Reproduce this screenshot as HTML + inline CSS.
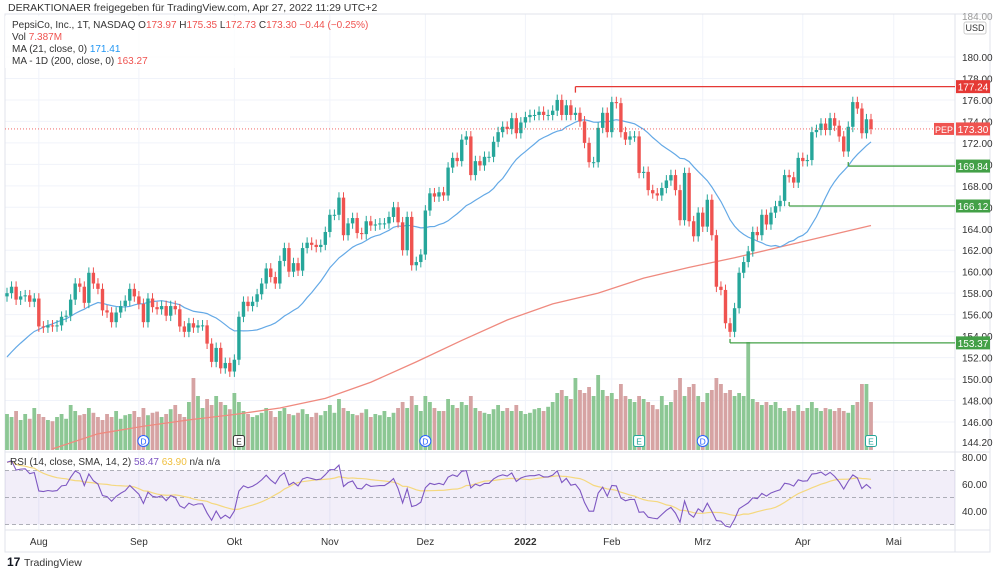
<!DOCTYPE html>
<html><head><meta charset="utf-8">
<style>
body{margin:0;background:#fff;width:1000px;height:575px;overflow:hidden;font-family:"Liberation Sans",sans-serif}
svg{position:absolute;left:0;top:0}
text{font-family:"Liberation Sans",sans-serif}
</style></head>
<body>
<svg id="c" width="1000" height="575" viewBox="0 0 1000 575"></svg>
<script>
const closes=[158.0,158.6,157.4,157.7,157.8,157.2,157.5,154.9,154.8,155.0,
154.9,155.0,155.8,155.9,157.4,158.9,158.6,157.1,159.9,158.9,
158.4,156.4,156.2,155.3,156.2,156.8,157.3,158.4,157.7,157.0,
155.3,157.5,156.7,156.5,156.8,155.9,156.8,156.5,154.9,154.4,
155.2,154.8,155.0,155.0,153.3,151.6,152.9,151.0,151.5,150.7,
151.8,155.8,157.2,156.8,157.2,157.9,158.9,160.3,159.5,158.9,
161.0,162.2,160.0,160.8,160.1,162.2,162.7,162.5,162.3,162.5,
163.7,165.3,165.3,166.9,163.4,164.5,165.0,163.6,163.5,164.7,
164.3,164.4,164.5,164.5,165.1,166.0,164.6,162.0,165.1,160.6,
160.9,161.6,165.7,167.3,167.0,167.4,167.1,169.7,170.6,170.3,
172.3,172.6,169.0,170.3,169.9,170.7,170.7,172.1,173.0,173.5,
173.3,174.3,172.9,173.9,174.4,174.6,174.6,174.9,174.6,174.6,
175.0,176.0,174.6,175.5,174.6,174.8,174.0,172.0,170.2,170.2,
173.4,174.8,173.0,175.8,175.7,173.0,172.3,
172.6,172.6,169.2,169.3,167.6,167.3,167.1,167.8,168.5,169.0,
167.6,164.8,169.2,164.7,163.3,165.5,164.2,166.7,163.4,158.6,
158.3,155.2,154.4,156.6,159.9,160.9,161.9,163.7,163.4,165.3,
164.4,165.5,166.1,166.6,169.0,168.8,168.3,170.6,170.3,170.4,
173.0,173.2,173.8,173.2,174.3,173.6,172.6,171.2,173.5,175.8,
175.2,172.9,174.2,173.3];
const preCloses=[149,148.2,149.5,150,149.2,150.5,151,150.3,151.5,152,151.2,152.5,153,152.4,153.6,154,153.3,154.5,155,154.6];
const volumes=[6,5.5,6.5,5,6,5.2,7,6,5.5,5,
4.8,5.5,6,5.2,7.5,6.5,5.8,6,7,6.2,
5.5,5,6,5.5,6.5,5.2,5.8,6,6.5,5.5,
7,5.8,6.2,6.4,5.5,6,6.8,7.5,6,5.5,
8,12,9,7,8.5,7.5,9,8,7.5,6.8,
9.5,8,6.5,6,5.5,5.8,6.2,7,6.5,5.5,
6.5,7,6,5.8,6.2,6.8,6,5.5,6.2,5.8,
6.5,7.5,6.2,8.5,7,6.5,6,5.8,6.2,6.8,
5.5,6,5.8,6.5,5.5,6.2,7,8,7,9,
7.5,6.5,9,8,7,6.5,6.5,8.5,7.5,7,
8,7.5,9,7,6.5,6.2,6,6.8,7.5,6.5,
7,6.5,7.5,6.5,6,6.2,6.8,7,6.5,7.2,
8,9.5,10,9,8.5,12,10,9.5,10.5,9,
12.5,10,9,9.5,8.5,11,9,
8.5,8,9,8.5,8,7.5,6.8,9,7.5,8,
10,12,9,10.5,11,9,8,9.5,10,12,
11,9.5,10,9,9.5,9,18,8.5,8,7.5,
8,7.5,8,7,6.5,7,6.5,7.5,6.5,7,
8,7,6.5,7,6.8,6.5,7,6.5,6.2,7.5,
8,11,11,8];
const ma200Pts=[143.5,144.9,145.6,146.2,146.7,147.3,148.2,149.7,151.6,153.6,155.5,157.0,158.0,159.4,160.4,161.3,162.3,163.3,164.3];
const priceTicks=[180,178,176,174,172,170,168,166,164,162,160,158,156,154,152,150,148,146];
const monthLabels=["Aug","Sep","Okt","Nov","Dez","2022","Feb","Mrz","Apr","Mai"];
const monthBars=[7,29,50,71,92,114,133,153,175,195];
const rsiTicks=[80,60,40];
const levels=[177.24,169.84,166.12,153.37];
const levelStart=[125,185,172,159];

const NS="http://www.w3.org/2000/svg";
const svg=document.getElementById('c');
function mk(tag,attrs,parent){const e=document.createElementNS(NS,tag);for(const k in attrs)e.setAttribute(k,attrs[k]);(parent||svg).appendChild(e);return e;}
const n=closes.length;
const X0=7,X1=871,step=(X1-X0)/(n-1);
const bx=i=>X0+i*step;
const py=p=>57+(180-p)*10.735;
const ry=v=>457+(80-v)*1.35;
const vy=v=>450-v*6;

const defs=mk('defs',{});
const cp=mk('clipPath',{id:'rsiclip'},defs);mk('rect',{x:5,y:453,width:950,height:77},cp);

let g=mk('g',{});
priceTicks.forEach(p=>{mk('line',{x1:5,x2:955,y1:py(p),y2:py(p),stroke:'#f0f3fa'},g);});
monthBars.forEach(b=>{const x=bx(b);mk('line',{x1:x,x2:x,y1:14,y2:530,stroke:'#f0f3fa'},g);});
mk('rect',{x:5,y:14,width:985,height:538,fill:'none',stroke:'#e0e3eb'});
mk('line',{x1:955,x2:955,y1:14,y2:552,stroke:'#e0e3eb'});
mk('line',{x1:5,x2:990,y1:452,y2:452,stroke:'#e0e3eb'});
mk('line',{x1:5,x2:990,y1:530,y2:530,stroke:'#e0e3eb'});

let t=mk('text',{x:8,y:11,'font-size':10.5,fill:'#333'});t.textContent='DERAKTIONAER freigegeben für TradingView.com, Apr 27, 2022 11:29 UTC+2';


let vg=mk('g',{});
for(let i=0;i<n;i++){const o=i?closes[i-1]:closes[0]-0.3;const up=closes[i]>=o;const y=vy(volumes[i]);
 const r=mk('rect',{x:bx(i)-1.9,y:y,width:3.8,height:450-y,fill:up?'#8cc794':'#d6a3a3'},vg);
 
 }

let pts=ma200Pts.map((v,k)=>{const i=Math.min(10+k*10,n-1);return bx(i)+','+py(v);}).join(' ');
let m2=mk('polyline',{points:pts,fill:'none',stroke:'#ef8a7f','stroke-width':1.3});


const all=preCloses.concat(closes);let ma=[];
for(let i=0;i<n;i++){let s=0;for(let k=0;k<21;k++)s+=all[i+20-k];ma.push(s/21);}
let m1=mk('polyline',{points:ma.map((v,i)=>bx(i)+','+py(v)).join(' '),fill:'none',stroke:'#64a9e6','stroke-width':1.2});


let cg=mk('g',{});
for(let i=0;i<n;i++){const o=i?closes[i-1]:closes[0]-0.3,c=closes[i];const up=c>=o;const col=up?'#26a69a':'#ef5350';
 const hi=Math.max(o,c)+0.5,lo=Math.min(o,c)-0.5,x=bx(i);
 mk('line',{x1:x,x2:x,y1:py(hi),y2:py(lo),stroke:col,'stroke-width':1},cg);
 const top=py(Math.max(o,c)),h=Math.max(1,py(Math.min(o,c))-top);
 const r=mk('rect',{x:x-1.7,y:top,width:3.4,height:h,fill:col},cg);
 
 }

mk('line',{x1:5,x2:955,y1:py(173.3),y2:py(173.3),stroke:'#ef5350','stroke-dasharray':'1 2','stroke-width':0.8});
let pep=mk('rect',{x:934,y:py(173.3)-6,width:20,height:12,fill:'#ef5350'});

t=mk('text',{x:944,y:py(173.3)+4,'font-size':9,fill:'#fff','text-anchor':'middle'});t.textContent='PEP';

levels.forEach((v,k)=>{const col=k==0?'#e53935':'#43a047';const y=py(v);
 const l=mk('line',{x1:bx(levelStart[k]),x2:955,y1:y,y2:y,stroke:col,'stroke-width':1.3});
 
 mk('line',{x1:bx(levelStart[k]),x2:bx(levelStart[k]),y1:y,y2:y+(k==0?6:-4),stroke:col,'stroke-width':1.3});});

priceTicks.forEach(p=>{if(p<181){const tt=mk('text',{x:962,y:py(p)+4,'font-size':10,fill:'#333'});tt.textContent=p.toFixed(2);
 }});
t=mk('text',{x:962,y:446,'font-size':10,fill:'#333'});t.textContent='144.20';
t=mk('text',{x:962,y:20,'font-size':10,fill:'#999'});t.textContent='184.00';
let ub=mk('rect',{x:964,y:22,width:22,height:12,rx:2,fill:'#fff',stroke:'#ccc'});
t=mk('text',{x:975,y:31,'font-size':9,fill:'#333','text-anchor':'middle'});t.textContent='USD';
const labs=[[173.3,'#ef5350']].concat(levels.map((v,k)=>[v,k==0?'#e53935':'#43a047']));
labs.forEach(([v,col])=>{const y=py(v);const r=mk('rect',{x:956,y:y-6.5,width:34,height:13,fill:col});
 
 const tt=mk('text',{x:973,y:y+4,'font-size':10,fill:'#fff','text-anchor':'middle'});tt.textContent=v.toFixed(2);});

const leg=mk('g',{});
mk('rect',{x:5,y:16,width:285,height:52,fill:'#fff',opacity:0.8},leg);
t=mk('text',{x:12,y:28,'font-size':10,fill:'#333'},leg);t.innerHTML='PepsiCo, Inc., 1T, NASDAQ  O<tspan fill="#ef5350">173.97</tspan>  H<tspan fill="#ef5350">175.35</tspan>  L<tspan fill="#ef5350">172.73</tspan>  C<tspan fill="#ef5350">173.30  −0.44 (−0.25%)</tspan>';
t=mk('text',{x:12,y:40,'font-size':10,fill:'#333'},leg);t.innerHTML='Vol  <tspan fill="#ef5350">7.387M</tspan>';
t=mk('text',{x:12,y:52,'font-size':10,fill:'#333'},leg);t.innerHTML='MA (21, close, 0)  <tspan fill="#2196f3">171.41</tspan>';
t=mk('text',{x:12,y:64,'font-size':10,fill:'#333'},leg);t.innerHTML='MA - 1D (200, close, 0)  <tspan fill="#ef5350">163.27</tspan>';

const dBars=[30,92,153],eBars=[51,139,190];
dBars.forEach(b=>{const x=bx(b);const c=mk('circle',{cx:x,cy:441,r:5.5,fill:'#fff',stroke:'#2962ff'});
 
 const tt=mk('text',{x:x,y:444.5,'font-size':8.5,fill:'#2962ff','text-anchor':'middle'});tt.textContent='D';});
eBars.forEach(b=>{const x=bx(b);const c=mk('rect',{x:x-5.5,y:435.5,width:11,height:11,rx:2,fill:'#fff',stroke:b==51?'#333':'#26a69a'});
 
 const tt=mk('text',{x:x,y:444.5,'font-size':8.5,fill:b==51?'#333':'#26a69a','text-anchor':'middle'});tt.textContent='E';});

mk('rect',{x:5,y:ry(70),width:950,height:ry(30)-ry(70),fill:'#7e57c2','fill-opacity':0.1});
[70,50,30].forEach(v=>mk('line',{x1:5,x2:955,y1:ry(v),y2:ry(v),stroke:'#9598a1','stroke-dasharray':'4 3','stroke-width':0.8}));
let ag=0,al=0,rsi=[];const seq=all;
for(let j=1;j<seq.length;j++){const d=seq[j]-seq[j-1];const gn=Math.max(d,0),ls=Math.max(-d,0);
 if(j<=14){ag+=gn/14;al+=ls/14;}else{ag=(ag*13+gn)/14;al=(al*13+ls)/14;}
 if(j>=20)rsi.push(al===0?100:100-100/(1+ag/al));}
let sma=[];for(let i=0;i<rsi.length;i++){let s=0,c=0;for(let k=Math.max(0,i-13);k<=i;k++){s+=rsi[k];c++;}sma.push(s/c);}
const rg=mk('g',{'clip-path':'url(#rsiclip)'});
let rs=mk('polyline',{points:sma.map((v,i)=>bx(i)+','+ry(v)).join(' '),fill:'none',stroke:'#f5d87e','stroke-width':1.2},rg);

let rl=mk('polyline',{points:rsi.map((v,i)=>bx(i)+','+ry(v)).join(' '),fill:'none',stroke:'#7e57c2','stroke-width':1.1},rg);

t=mk('text',{x:10,y:465,'font-size':10,fill:'#333'});t.innerHTML='RSI (14, close, SMA, 14, 2)  <tspan fill="#7e57c2">58.47</tspan>  <tspan fill="#f0c040">63.90</tspan>  n/a  n/a';

rsiTicks.forEach(v=>{const tt=mk('text',{x:962,y:ry(v)+4,'font-size':10,fill:'#333'});tt.textContent=v.toFixed(2);
 });

monthLabels.forEach((m,k)=>{const tt=mk('text',{x:bx(monthBars[k]),y:545,'font-size':10,fill:'#333','text-anchor':'middle','font-weight':m=='2022'?'bold':'normal'});tt.textContent=m;
 });

t=mk('text',{x:7,y:566,'font-size':12,fill:'#131722','font-weight':'bold'});t.textContent='17';
t=mk('text',{x:24,y:566,'font-size':10.5,fill:'#333'});t.textContent='TradingView';

</script>
</body></html>
